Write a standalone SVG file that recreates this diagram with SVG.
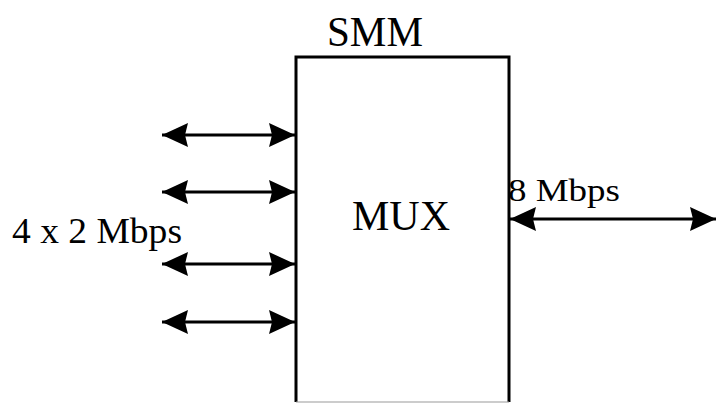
<svg xmlns="http://www.w3.org/2000/svg" width="717" height="404" viewBox="0 0 717 404">
<defs>
<style>
.t{font-family:"Liberation Serif","Times New Roman",serif;fill:#000}
.ln{stroke:#000;stroke-width:3;fill:none}
</style>
<marker id="ah" viewBox="0 0 26 24" refX="26" refY="12" markerWidth="26" markerHeight="24" markerUnits="userSpaceOnUse" orient="auto-start-reverse">
<path d="M0,0 L26,12 L0,24 L3,12 Z" fill="#000"/>
</marker>
</defs>
<rect width="717" height="404" fill="#fff"/>
<g id="smm">
<path d="M296,402 L296,57 L509,57 L509,402" stroke="#000" stroke-width="3" fill="none"/>
<line x1="296" y1="402" x2="509" y2="402" stroke="#999" stroke-width="1"/>
<text class="t" x="327" y="46" font-size="43" textLength="96" lengthAdjust="spacingAndGlyphs">SMM</text>
<text class="t" x="352" y="230" font-size="42" textLength="98" lengthAdjust="spacingAndGlyphs">MUX</text>
</g>
<g id="labels">
<text class="t" x="12" y="243" font-size="35" textLength="170" lengthAdjust="spacingAndGlyphs">4 x 2 Mbps</text>
<text class="t" x="508" y="201" font-size="32" textLength="112" lengthAdjust="spacingAndGlyphs">8 Mbps</text>
</g>
<g id="connectors">
<line class="ln" x1="162" y1="135" x2="295" y2="135" marker-start="url(#ah)" marker-end="url(#ah)"/>
<line class="ln" x1="162" y1="192" x2="295" y2="192" marker-start="url(#ah)" marker-end="url(#ah)"/>
<line class="ln" x1="162" y1="264" x2="295" y2="264" marker-start="url(#ah)" marker-end="url(#ah)"/>
<line class="ln" x1="162" y1="322" x2="295" y2="322" marker-start="url(#ah)" marker-end="url(#ah)"/>
<line class="ln" x1="510" y1="219" x2="716" y2="219" marker-start="url(#ah)" marker-end="url(#ah)"/>
</g>
</svg>
